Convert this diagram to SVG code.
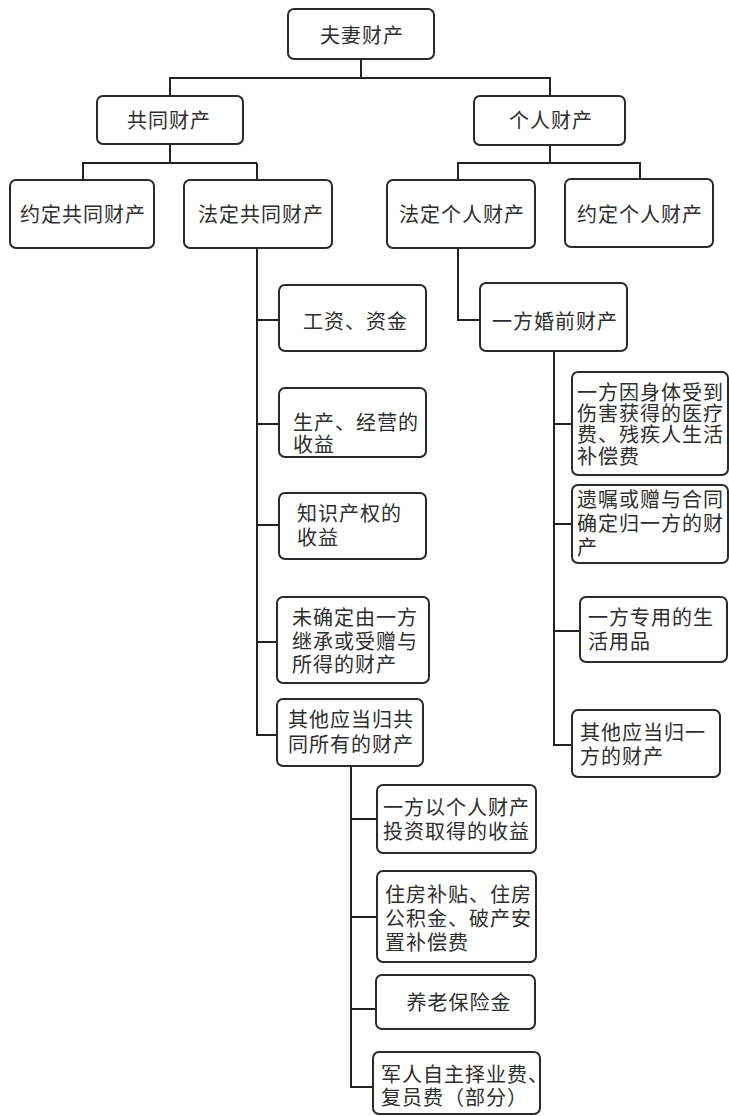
<svg xmlns="http://www.w3.org/2000/svg" width="729" height="1116" viewBox="0 0 729 1116">
<style>
.b{fill:#fff;stroke:#2a2a2a;stroke-width:2;}
.t{font-family:"Noto Sans CJK SC","Noto Sans",sans-serif;font-size:20px;letter-spacing:1px;fill:#2e2e2e;}
.m{text-anchor:middle;}
.c{fill:none;stroke:#222;stroke-width:2;}
</style>
<rect width="729" height="1116" fill="#fff"/>
<g id="connectors">
<path class="c" d="M361 59V78M170 96V78H550V96"/>
<path class="c" d="M170 144V163M83 180V163H257M257 180V163"/>
<path class="c" d="M550 145V163M458 180V163H640V179"/>
<path class="c" d="M257 248V735H278M257 320H279M257 424H279M257 525H279M257 642H277"/>
<path class="c" d="M458 248V320H480"/>
<path class="c" d="M554 351V745H572M554 424H572M554 524H572M554 631H580"/>
<path class="c" d="M351 766V1087H373M351 819H377M351 917H377M351 1009H376"/>
</g>
<g id="n1"><rect class="b" x="288" y="9" width="146" height="50" rx="6"/><text class="t m" x="362" y="43">夫妻财产</text></g>
<g id="n2"><rect class="b" x="97" y="96" width="146" height="48" rx="6"/><text class="t m" x="169" y="128">共同财产</text></g>
<g id="n3"><rect class="b" x="474" y="96" width="151" height="49" rx="6"/><text class="t m" x="551" y="128">个人财产</text></g>
<g id="n4"><rect class="b" x="10" y="180" width="144" height="68" rx="6"/><text class="t m" x="83" y="222">约定共同财产</text></g>
<g id="n5"><rect class="b" x="184" y="180" width="148" height="68" rx="6"/><text class="t m" x="261" y="222">法定共同财产</text></g>
<g id="n6"><rect class="b" x="387" y="180" width="148" height="68" rx="6"/><text class="t m" x="462" y="222">法定个人财产</text></g>
<g id="n7"><rect class="b" x="565" y="179" width="148" height="68" rx="6"/><text class="t m" x="640" y="222">约定个人财产</text></g>
<g id="n8"><rect class="b" x="279" y="285" width="147" height="66" rx="6"/><text class="t" x="303" y="329">工资、资金</text></g>
<g id="n9"><rect class="b" x="480" y="283" width="147" height="68" rx="6"/><text class="t" x="492" y="329">一方婚前财产</text></g>
<g id="n10"><rect class="b" x="279" y="388" width="147" height="69" rx="6"/><text class="t" y="430"><tspan x="293">生产、经营的</tspan><tspan x="293" dy="22">收益</tspan></text></g>
<g id="n11"><rect class="b" x="279" y="493" width="147" height="66" rx="6"/><text class="t" y="521"><tspan x="297">知识产权的</tspan><tspan x="297" dy="24">收益</tspan></text></g>
<g id="n12"><rect class="b" x="277" y="597" width="152" height="86" rx="6"/><text class="t" y="625"><tspan x="292">未确定由一方</tspan><tspan x="292" dy="24">继承或受赠与</tspan><tspan x="292" dy="23">所得的财产</tspan></text></g>
<g id="n13"><rect class="b" x="277" y="699" width="146" height="67" rx="6"/><text class="t" y="727"><tspan x="288">其他应当归共</tspan><tspan x="288" dy="25">同所有的财产</tspan></text></g>
<g id="n14"><rect class="b" x="572" y="372" width="156" height="103" rx="6"/><text class="t" y="400"><tspan x="577">一方因身体受到</tspan><tspan x="577" dy="21">伤害获得的医疗</tspan><tspan x="577" dy="21">费、残疾人生活</tspan><tspan x="577" dy="22">补偿费</tspan></text></g>
<g id="n15"><rect class="b" x="572" y="485" width="156" height="78" rx="6"/><text class="t" y="507"><tspan x="577">遗嘱或赠与合同</tspan><tspan x="577" dy="24">确定归一方的财</tspan><tspan x="577" dy="24">产</tspan></text></g>
<g id="n16"><rect class="b" x="580" y="597" width="147" height="65" rx="6"/><text class="t" y="625"><tspan x="588">一方专用的生</tspan><tspan x="588" dy="24">活用品</tspan></text></g>
<g id="n17"><rect class="b" x="572" y="710" width="148" height="67" rx="6"/><text class="t" y="740"><tspan x="580">其他应当归一</tspan><tspan x="580" dy="24">方的财产</tspan></text></g>
<g id="n18"><rect class="b" x="377" y="785" width="159" height="68" rx="6"/><text class="t" y="815"><tspan x="383">一方以个人财产</tspan><tspan x="383" dy="24">投资取得的收益</tspan></text></g>
<g id="n19"><rect class="b" x="377" y="871" width="159" height="91" rx="6"/><text class="t" y="902"><tspan x="385">住房补贴、住房</tspan><tspan x="385" dy="24">公积金、破产安</tspan><tspan x="385" dy="24">置补偿费</tspan></text></g>
<g id="n20"><rect class="b" x="376" y="975" width="159" height="54" rx="6"/><text class="t m" x="459" y="1010">养老保险金</text></g>
<g id="n21"><rect class="b" x="373" y="1052" width="167" height="62" rx="6"/><text class="t" y="1082"><tspan x="381">军人自主择业费、</tspan><tspan x="381" dy="23">复员费（部分）</tspan></text></g>
</svg>
